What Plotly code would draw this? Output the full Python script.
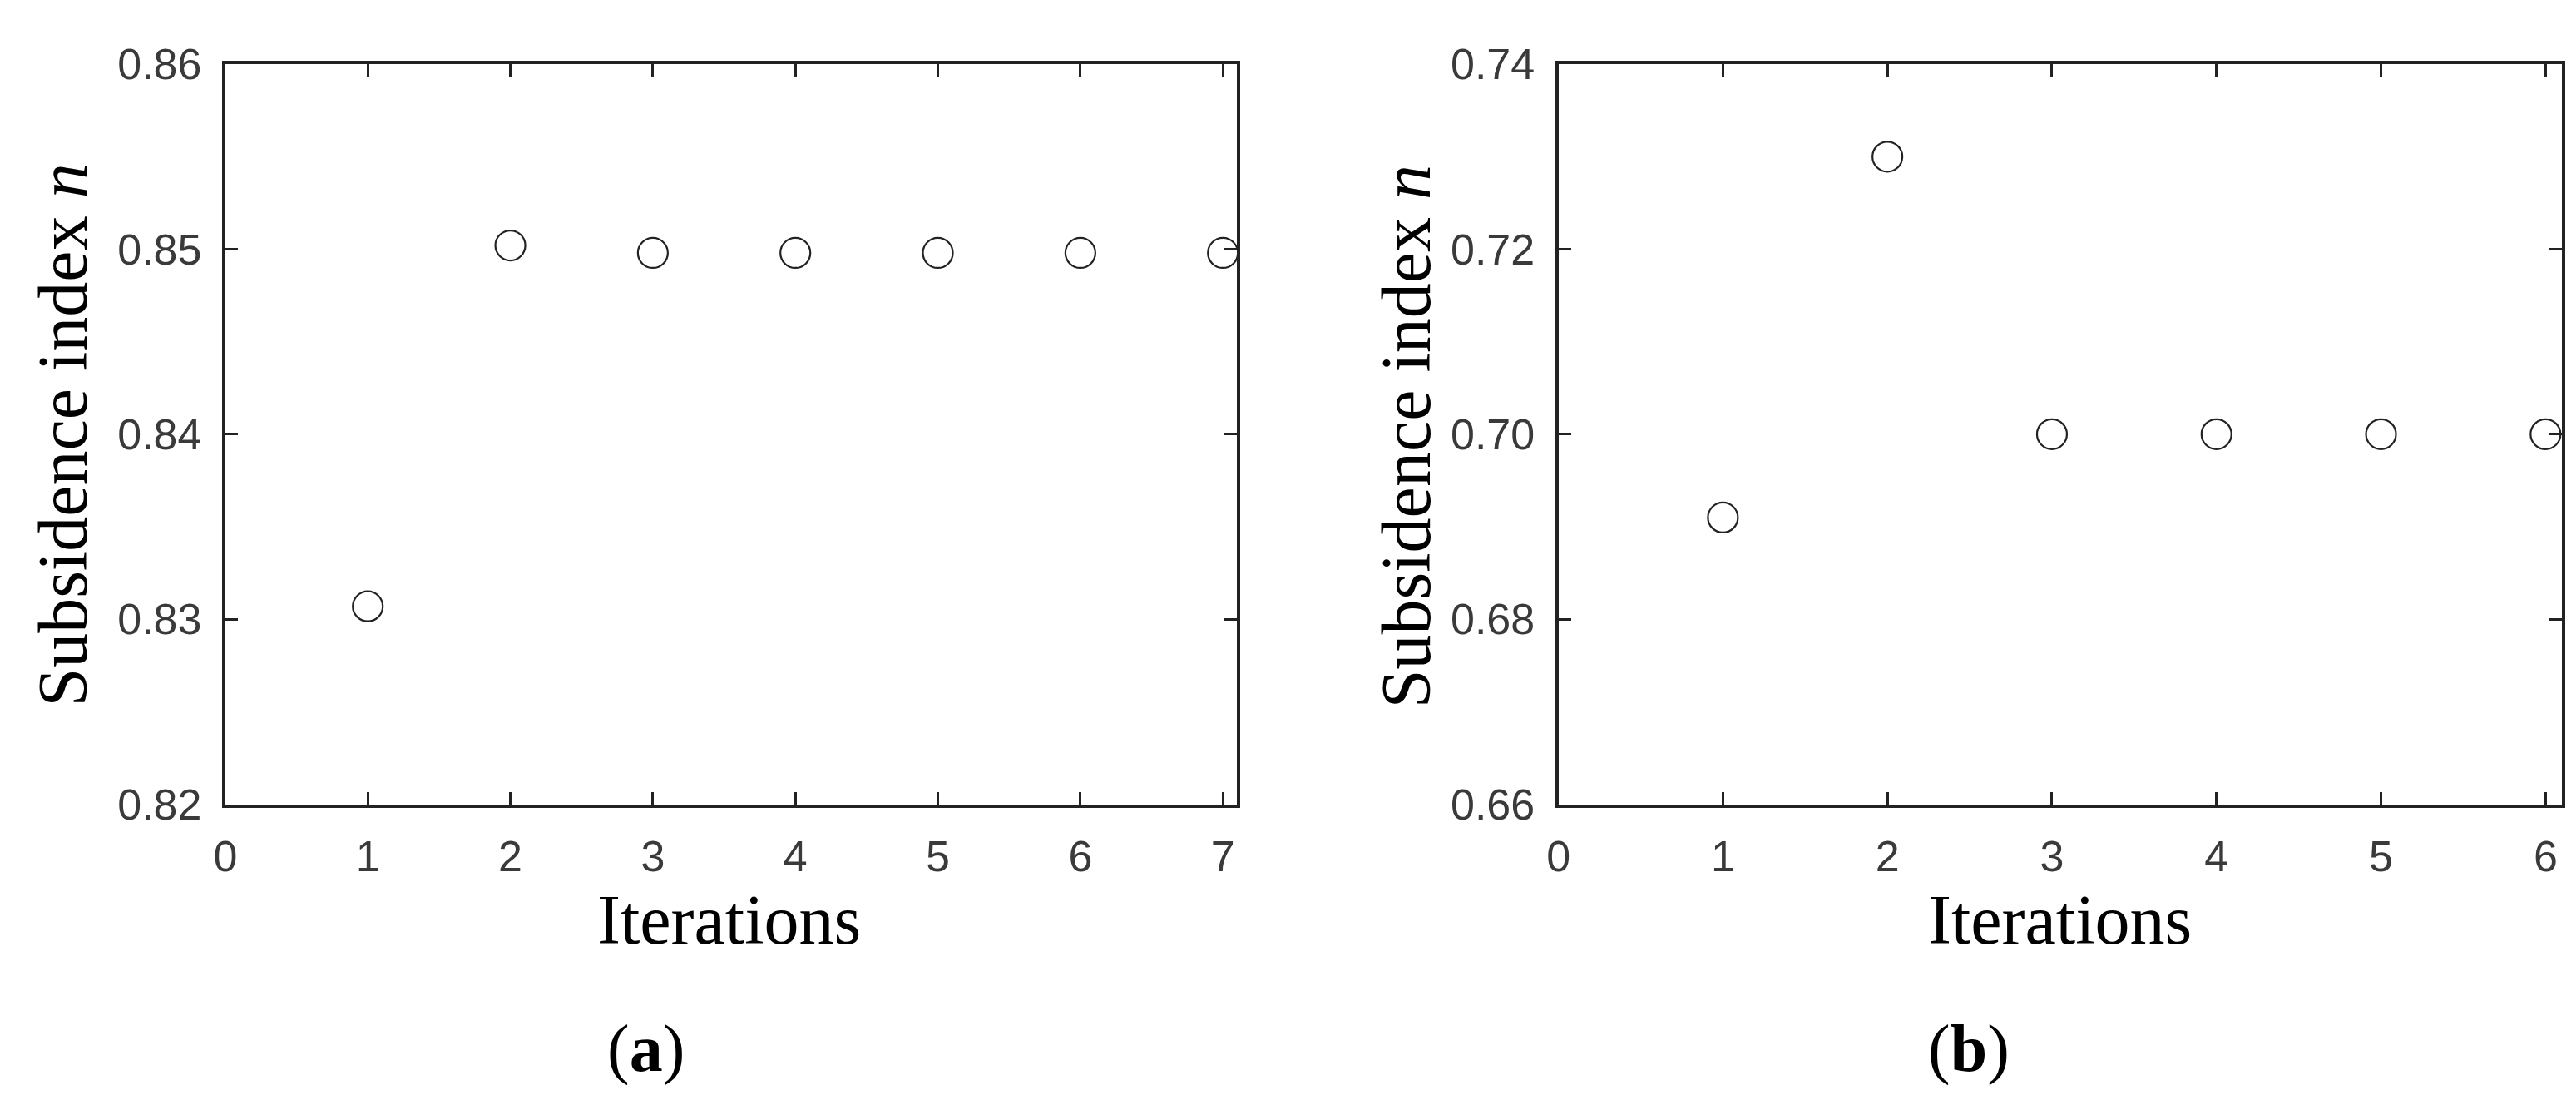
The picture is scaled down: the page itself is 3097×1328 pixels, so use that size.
import plotly.graph_objects as go
from plotly.subplots import make_subplots

# (a) left panel
iter_a = [1, 2, 3, 4, 5, 6, 7]
n_a = [0.8307, 0.8502, 0.8498, 0.8498, 0.8498, 0.8498, 0.8498]

# (b) right panel
iter_b = [1, 2, 3, 4, 5, 6]
n_b = [0.691, 0.730, 0.700, 0.700, 0.700, 0.700]

W, H = 3097, 1328


def px_x(v):
    return v / W


def px_y(v):
    return 1 - v / H


fig = make_subplots(rows=1, cols=2)

marker_style = dict(symbol="circle-open", size=36, color="#222222", line=dict(width=2.2, color="#222222"))

fig.add_trace(go.Scatter(x=iter_a, y=n_a, mode="markers", marker=marker_style, cliponaxis=False), row=1, col=1)
fig.add_trace(go.Scatter(x=iter_b, y=n_b, mode="markers", marker=marker_style, cliponaxis=False), row=1, col=2)

axis_common = dict(
    showline=True,
    mirror="allticks",
    linecolor="#222222",
    linewidth=4,
    ticks="inside",
    ticklen=15,
    tickwidth=3,
    tickcolor="#222222",
    showgrid=False,
    zeroline=False,
    tickfont=dict(family="Liberation Sans, Arial, sans-serif", size=52, color="#3a3a3a"),
)

fig.update_xaxes(axis_common, ticklabelstandoff=14)
fig.update_yaxes(axis_common, ticklabelstandoff=14)

ydom = [px_y(972), px_y(42)]
fig.update_layout(
    xaxis=dict(domain=[px_x(250), px_x(1472)], range=[0, 7.1], tickvals=[0, 1, 2, 3, 4, 5, 6, 7]),
    yaxis=dict(domain=ydom, range=[0.82, 0.86], tickvals=[0.82, 0.83, 0.84, 0.85, 0.86],
               tickformat=".2f"),
    xaxis2=dict(domain=[px_x(1860), px_x(3072)], range=[0, 6.1], tickvals=[0, 1, 2, 3, 4, 5, 6]),
    yaxis2=dict(domain=ydom, range=[0.66, 0.74], tickvals=[0.66, 0.68, 0.70, 0.72, 0.74],
                tickformat=".2f"),
)

serif = "Liberation Serif, Times New Roman, serif"
label_font = dict(family=serif, size=84, color="black")
annotations = [
    dict(x=px_x(858), y=px_y(1117), text="Iterations"),
    dict(x=px_x(2466), y=px_y(1117), text="Iterations"),
    dict(x=px_x(54), y=px_y(508), text="Subsidence index <i>n</i>", textangle=-90),
    dict(x=px_x(1676), y=px_y(510), text="Subsidence index <i>n</i>", textangle=-90),
    dict(x=px_x(758), y=px_y(1279), text="(<b>a</b>)", font=dict(family=serif, size=80, color="black")),
    dict(x=px_x(2356), y=px_y(1279), text="(<b>b</b>)", font=dict(family=serif, size=80, color="black")),
]
for a in annotations:
    a.setdefault("font", label_font)
    a.update(xref="paper", yref="paper", showarrow=False, xanchor="center", yanchor="middle")

fig.update_layout(
    annotations=annotations,
    width=W,
    height=H,
    margin=dict(l=0, r=0, t=0, b=0),
    paper_bgcolor="white",
    plot_bgcolor="white",
    showlegend=False,
)

fig.write_html("out.html")
